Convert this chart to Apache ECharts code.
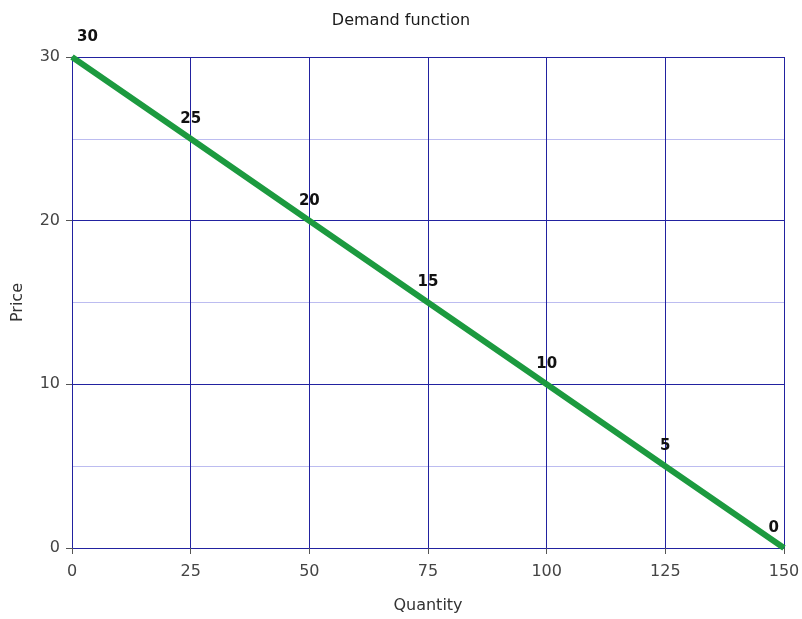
<!DOCTYPE html>
<html>
<head>
<meta charset="utf-8">
<script src="https://cdn.jsdelivr.net/npm/echarts@6/dist/echarts.min.js"></script>
<style>html,body{margin:0;padding:0;background:#fff;}#c{width:802px;height:619px;}</style>
</head>
<body>
<div id="c"></div>
<script>
const quantities = [0, 25, 50, 75, 100, 125, 150];
const prices = [30, 25, 20, 15, 10, 5, 0];
const titleText = 'Demand function';
const xName = 'Quantity';
const yName = 'Price';

const FONT = 'DejaVu Sans';
const chart = echarts.init(document.getElementById('c'));
const data = quantities.map((q, i) => {
  const item = { value: [q, prices[i]] };
  if (i === 0) item.label = { align: 'left', offset: [5, 0] };
  if (i === quantities.length - 1) item.label = { align: 'right', offset: [-5, 0] };
  return item;
});
chart.setOption({
  animation: false,
  title: { text: titleText, left: 'center', top: 8, textStyle: { fontFamily: FONT, fontSize: 16, fontWeight: 'normal', color: '#1a1a1a' } },
  grid: { left: 72, right: 18, top: 57, bottom: 71, outerBoundsMode: 'none', containLabel: false },
  xAxis: {
    type: 'value', min: 0, max: 150, interval: 25,
    name: xName, nameLocation: 'middle', nameGap: 50,
    nameTextStyle: { fontFamily: FONT, fontSize: 16, color: '#333' },
    axisLine: { show: true, lineStyle: { color: '#2222a0', width: 1 } },
    axisTick: { show: true, length: 6, lineStyle: { color: '#555' } },
    axisLabel: { fontFamily: FONT, fontSize: 16, color: '#444', margin: 16 },
    splitLine: { show: true, lineStyle: { color: '#2222a0', width: 1 } }
  },
  yAxis: {
    type: 'value', min: 0, max: 30, interval: 10,
    name: yName, nameLocation: 'middle', nameGap: 46,
    nameTextStyle: { fontFamily: FONT, fontSize: 16, color: '#333' },
    axisLine: { show: true, lineStyle: { color: '#2222a0', width: 1 } },
    axisTick: { show: true, length: 6, lineStyle: { color: '#555' } },
    axisLabel: { fontFamily: FONT, fontSize: 16, color: '#444', margin: 12 },
    splitLine: { show: true, lineStyle: { color: '#2222a0', width: 1 } },
    minorTick: { show: false, splitNumber: 2 },
    minorSplitLine: { show: true, lineStyle: { color: '#bcbcf0', width: 1 } }
  },
  series: [{
    type: 'line',
    data: data,
    showSymbol: true,
    symbol: 'circle',
    symbolSize: 1,
    itemStyle: { color: '#1c9a3f' },
    lineStyle: { color: '#1c9a3f', width: 6 },
    label: { show: true, position: 'top', distance: 12, fontFamily: FONT, fontSize: 15, fontWeight: 'bold', color: '#111', formatter: p => p.value[1] }
  }]
});
</script>
</body>
</html>
